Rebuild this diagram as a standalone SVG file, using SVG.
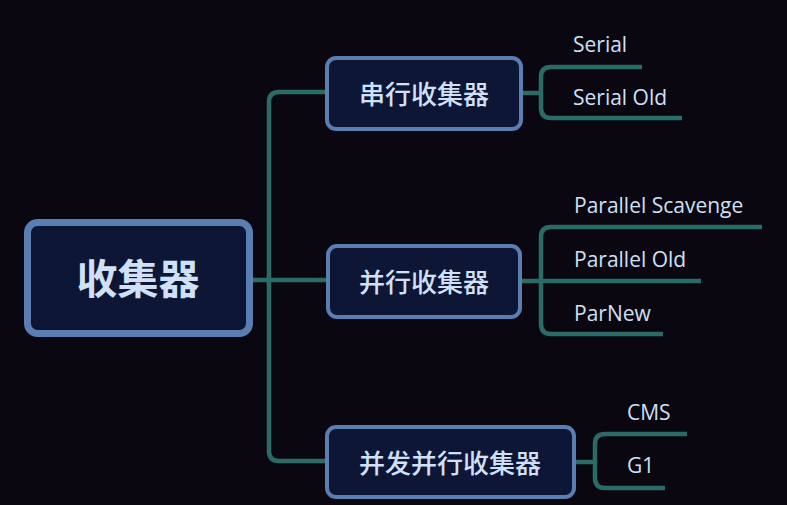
<svg xmlns="http://www.w3.org/2000/svg" width="787" height="505" viewBox="0 0 787 505">
<defs>
<style>
.box{fill:#0e1636;stroke:#5a7db2}
.cn{font-family:"Noto Sans CJK SC",sans-serif;fill:#cfe0f7;text-anchor:middle;dominant-baseline:central}
.leaf{font-family:"Open Sans",Lato,sans-serif;font-size:21px;fill:#cfe0f7}
.conn path{fill:none;stroke:#2b6b67;stroke-width:4.5;stroke-linecap:butt}
</style>
</defs>
<rect width="787" height="505" fill="#0a0710"/>
<g class="conn">
<path d="M 327 92 H 279 Q 269 92 269 102 V 451 Q 269 461 279 461 H 327"/>
<path d="M 252 280 H 327"/>
<path d="M 522 93 H 541"/>
<path d="M 642 67 H 551 Q 541 67 541 77 V 108 Q 541 118 551 118 H 682"/>
<path d="M 521 281 H 701"/>
<path d="M 762 227 H 551 Q 541 227 541 237 V 324 Q 541 334 551 334 H 663"/>
<path d="M 575 462 H 595"/>
<path d="M 687 434 H 605 Q 595 434 595 444 V 478 Q 595 488 605 488 H 665"/>
</g>
<g id="root">
<rect class="box" x="27.5" y="222.5" width="222" height="111" rx="10" stroke-width="7"/>
<text class="cn" x="138" y="276" font-size="41" font-weight="bold">收集器</text>
</g>
<g id="serial">
<rect class="box" x="327" y="58" width="194" height="71" rx="9" stroke-width="4"/>
<text class="cn" x="424" y="92" font-size="26" font-weight="500">串行收集器</text>
</g>
<g id="parallel">
<rect class="box" x="328" y="246" width="192" height="71" rx="9" stroke-width="4"/>
<text class="cn" x="424" y="280" font-size="26" font-weight="500">并行收集器</text>
</g>
<g id="concurrent">
<rect class="box" x="327" y="427" width="247" height="70" rx="9" stroke-width="4"/>
<text class="cn" x="450" y="461" font-size="26" font-weight="500">并发并行收集器</text>
</g>
<g id="leaf-serial"><text class="leaf" x="573" y="52">Serial</text></g>
<g id="leaf-serial-old"><text class="leaf" x="573" y="105">Serial Old</text></g>
<g id="leaf-ps"><text class="leaf" x="574" y="213">Parallel Scavenge</text></g>
<g id="leaf-po"><text class="leaf" x="574" y="267">Parallel Old</text></g>
<g id="leaf-parnew"><text class="leaf" x="574" y="321">ParNew</text></g>
<g id="leaf-cms"><text class="leaf" x="627" y="420">CMS</text></g>
<g id="leaf-g1"><text class="leaf" x="627" y="473">G1</text></g>
</svg>
